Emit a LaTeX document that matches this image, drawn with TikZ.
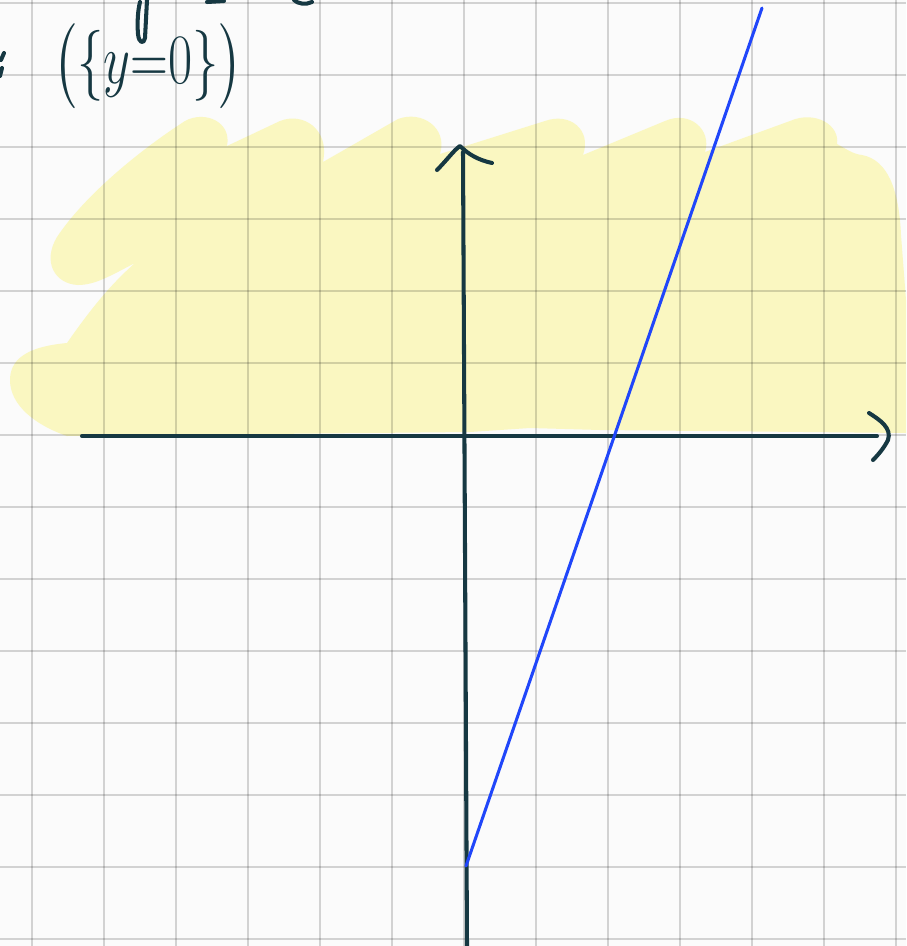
\documentclass[tikz,border=0pt]{standalone}
\usepackage{amsmath}
\definecolor{paper}{RGB}{251,251,251}
\definecolor{marker}{RGB}{250,247,193}
\definecolor{ink}{RGB}{22,56,66}
\definecolor{pen}{RGB}{32,70,250}

\begin{document}
\begin{tikzpicture}[x=0.0138889cm, y=-0.0138889cm,
    gridline/.style={draw=black, draw opacity=0.16, line width=1.1pt},
    axis/.style={draw=ink, line width=1.6pt, line cap=round},
    hook/.style={draw=ink, line width=1.6pt, line cap=round, line join=round},
    graph/.style={draw=pen, line width=1.2pt, line cap=round},
    hand/.style={text=ink, inner sep=0pt, xscale=1.0, yscale=1.35, transform shape,
        font=\fontsize{22}{26}\selectfont}]
    % Paper
    \fill[paper] (0,0) rectangle (906,946);
    \useasboundingbox (0,0) rectangle (906,946);

    % Highlight
    \fill[marker] (67,436)
        .. controls (35,425) and (10,405) .. (10,380)
        .. controls (10,355) and (35,346) .. (67,343)
        .. controls (90,310) and (110,285) .. (135,263)
        .. controls (110,276) and (95,285) .. (78,285)
        .. controls (55,284) and (42,262) .. (57,237)
        .. controls (85,195) and (140,150) .. (185,121)
        .. controls (205,110) and (232,122) .. (227,146)
        -- (280,121)
        .. controls (302,112) and (330,128) .. (323,162)
        -- (398,119)
        .. controls (422,110) and (448,128) .. (440,154)
        -- (545,121)
        .. controls (570,112) and (592,130) .. (583,155)
        -- (665,121)
        .. controls (690,110) and (712,130) .. (705,152)
        -- (790,121)
        .. controls (815,110) and (840,125) .. (837,144)
        .. controls (848,150) and (853,154) .. (862,155)
        .. controls (888,160) and (899,190) .. (901,235)
        -- (906,300) -- (906,433)
        -- (600,430) -- (530,428) -- (470,432) -- cycle;

    % Grid
    \foreach \gx in {32,104,...,896}
        \draw[gridline] (\gx,0) -- (\gx,946);
    \foreach \gy in {3,75,...,939}
        \draw[gridline] (0,\gy) -- (906,\gy);

    % Points
    \coordinate (origin) at (467,436);
    \coordinate (ytop) at (463,152);
    \coordinate (ybot) at (467,946);
    \coordinate (xleft) at (82,436);
    \coordinate (xright) at (877,436);
    \coordinate (cut) at (466,866);
    \coordinate (far) at (762,8);

    % Axes
    \draw[axis] (ybot) -- (ytop);
    \draw[axis] (xleft) -- (xright);
    \draw[hook] (437,170) .. controls (447,160) and (454,150) .. (460,146)
        .. controls (468,154) and (478,160) .. (492,163);
    \draw[hook] (869,413) .. controls (880,420) and (892,428) .. (888,440)
        .. controls (884,448) and (878,455) .. (873,460);

    % Line
    \draw[graph] (cut) -- (far);

    % Label
    \node[hand] (zero) at (148,66) {$\bigl(\{y{=}0\}\bigr)$};
    \draw[hook] (147,0) -- (145,38) .. controls (144,44) and (139,44) .. (138,34)
        .. controls (137,22) and (138,10) .. (140,2);
    \draw[hook] (4,53) -- (1,60);
    \draw[hook] (2,68) -- (0,76);
    \draw[hook] (207,2) -- (224,1);
    \draw[hook] (294,0) .. controls (298,4) and (306,5) .. (312,2);
\end{tikzpicture}
\end{document}
